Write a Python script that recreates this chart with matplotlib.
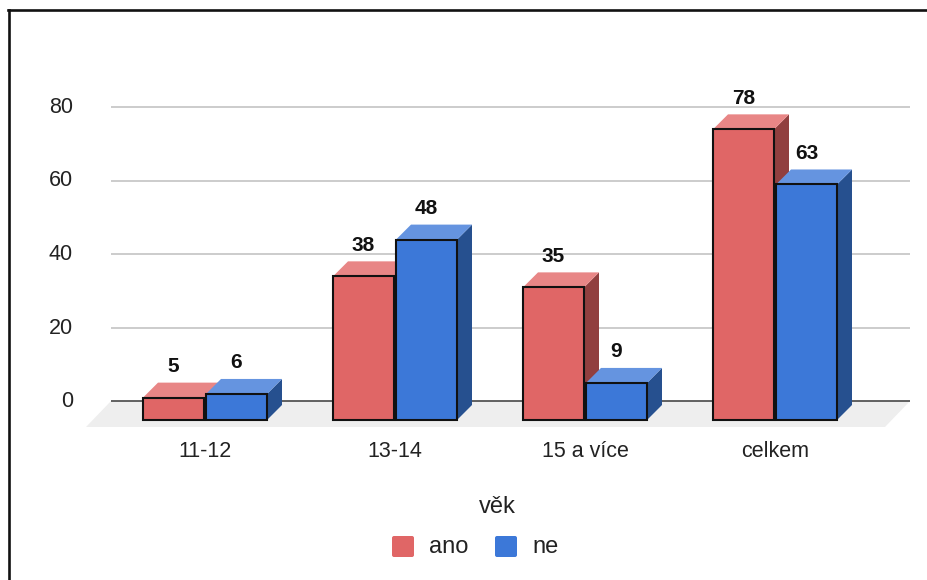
import matplotlib
matplotlib.use('Agg')
import matplotlib.pyplot as plt
from matplotlib.patches import Polygon, FancyBboxPatch
from matplotlib.transforms import Affine2D
from matplotlib.lines import Line2D

# ---- data ----
categories = ['11-12', '13-14', '15 a více', 'celkem']
series_names = ['ano', 'ne']
ano = [5, 38, 35, 78]
ne = [6, 48, 9, 63]
yticks = [0, 20, 40, 60, 80]
legend_title = 'věk'

plt.rcParams['font.family'] = ['Liberation Sans', 'DejaVu Sans']

W, H = 928, 580
fig = plt.figure(figsize=(W / 100, H / 100), dpi=100)
ax = fig.add_axes([0, 0, 1, 1])

# layout constants (pixels per unit)
PXX = 190.0   # px per category
X0 = 205.0    # px of first category centre
PXY = 3.675   # px per value unit
Y0 = 401.0    # px of value 0
ax.set_xlim(-X0 / PXX, (W - X0) / PXX)
ax.set_ylim(-(H - Y0) / PXY, Y0 / PXY)
ax.axis('off')


def dx(p):
    return p / PXX


def dy(p):
    return p / PXY


gl = dx(111 - X0)
gr = dx(910 - X0)

# floor
floor = Polygon([(gl, 0), (gr, 0), (gr - dx(25), -dy(26)), (gl - dx(25), -dy(26))],
                closed=True, facecolor='#eeeeee', edgecolor='none', zorder=1)
ax.add_patch(floor)

# gridlines
for t in yticks:
    if t == 0:
        ax.plot([gl, gr], [0, 0], color='#555555', lw=1.3, zorder=2, solid_capstyle='butt')
    else:
        ax.plot([gl, gr], [t, t], color='#cccccc', lw=1.4, zorder=2, solid_capstyle='butt')
    ax.text(dx(73 - X0), t - dy(6), str(t), ha='right', va='baseline',
            fontsize=15.5, color='#222222')

colors = [
    dict(front='#e06666', top='#e88686', side='#913f3f'),
    dict(front='#3c78d8', top='#6594e0', side='#26508f'),
]
series = [ano, ne]

ox, oy = dx(15), dy(15)
fb = -dy(19)
z = 5
for i, cat in enumerate(categories):
    for j, vals in enumerate(series):
        v = vals[i]
        c = colors[j]
        left = i + (dx(-62) if j == 0 else dx(1))
        right = left + dx(61)
        ft = v - oy
        side = Polygon([(right, fb), (right + ox, fb + oy), (right + ox, v), (right, ft)],
                       closed=True, facecolor=c['side'], edgecolor='none', zorder=z)
        top = Polygon([(left, ft), (right, ft), (right + ox, v), (left + ox, v)],
                      closed=True, facecolor=c['top'], edgecolor='none', zorder=z + 1)
        front = Polygon([(left, fb), (right, fb), (right, ft), (left, ft)],
                        closed=True, facecolor=c['front'], edgecolor='#111111',
                        lw=1.5, zorder=z + 2)
        ax.add_patch(side)
        ax.add_patch(top)
        ax.add_patch(front)
        z += 3
        ax.text((left + right) / 2, v + dy(10.5), str(v), ha='center', va='baseline',
                fontsize=15, fontweight='bold', color='#111111', zorder=50)
    ax.text(i, -dy(56), cat, ha='center', va='baseline', fontsize=15.5, color='#222222')

# legend (pixel coords, origin top-left)
tp = Affine2D().scale(1, -1).translate(0, H)
fig.text(497.5, 513, legend_title, transform=tp, ha='center', va='baseline',
         fontsize=17, color='#222222')
leg_x = [392, 495]
for j, name in enumerate(series_names):
    sq = FancyBboxPatch((leg_x[j], 536), 22, 21,
                        boxstyle='round,pad=0,rounding_size=2',
                        facecolor=colors[j]['front'], edgecolor='none', transform=tp)
    fig.add_artist(sq)
    fig.text(leg_x[j] + 37, 553, name, transform=tp, ha='left', va='baseline',
             fontsize=17, color='#222222')

# frame
fig.add_artist(Line2D([8.5, 8.5], [9.5, H], transform=tp, color='#111111', lw=1.9))
fig.add_artist(Line2D([7.5, W], [9.5, 9.5], transform=tp, color='#111111', lw=1.9))

fig.savefig('out.png', dpi=100)
